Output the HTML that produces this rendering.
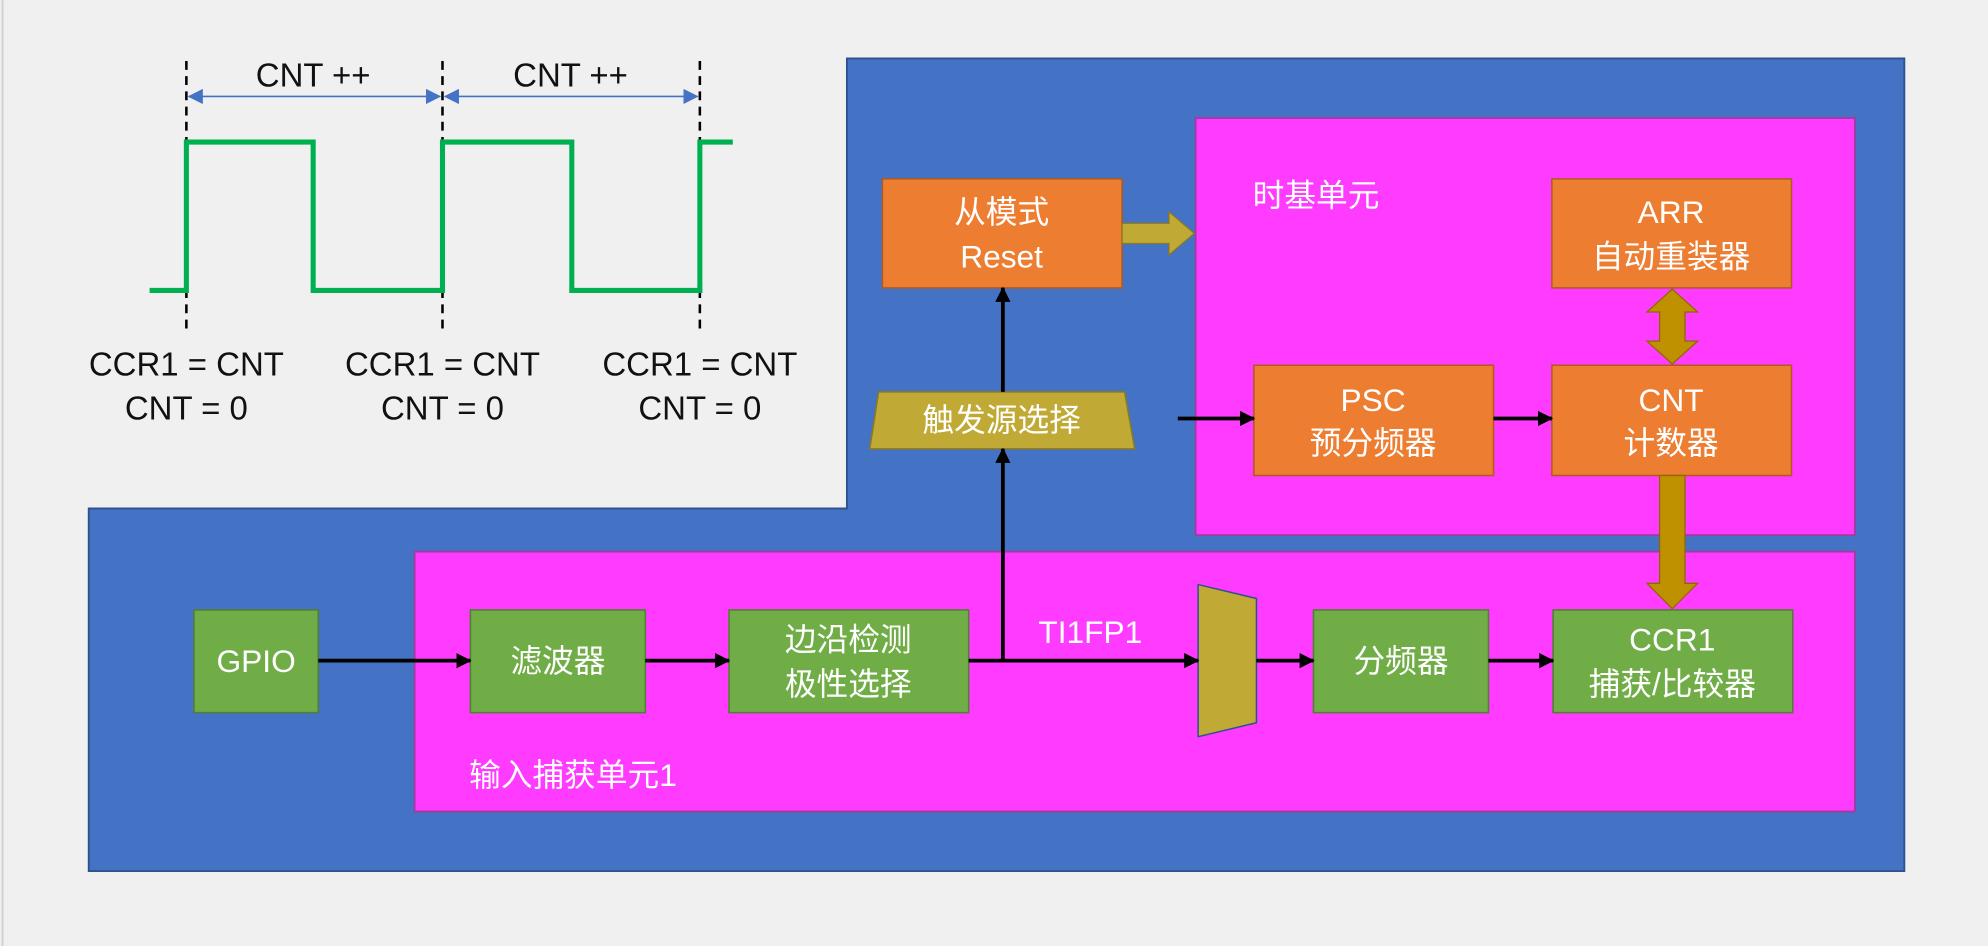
<!DOCTYPE html>
<html><head><meta charset="utf-8"><style>
html,body{margin:0;padding:0;background:#f0f0f0;}
svg{display:block;}
text{font-family:"Liberation Sans","Noto Sans CJK SC",sans-serif;}
</style></head><body>
<svg width="1988" height="946" viewBox="0 0 1568 746" xmlns="http://www.w3.org/2000/svg">
<defs>
<marker id="ab" markerWidth="12" markerHeight="12" refX="11" refY="6" orient="auto" markerUnits="userSpaceOnUse"><path d="M0,0 L12,6 L0,12 z" fill="#000"/></marker>
<marker id="bl" markerWidth="12" markerHeight="12" refX="11" refY="6" orient="auto-start-reverse" markerUnits="userSpaceOnUse"><path d="M0,0 L12,6 L0,12 z" fill="#4472C4"/></marker>
</defs>
<rect x="0" y="0" width="1568" height="746" fill="#f0f0f0"/>
<line x1="2" y1="0" x2="2" y2="746" stroke="#d0d0d0" stroke-width="1.5"/>
<path d="M668,46 L1502,46 L1502,687 L70,687 L70,401 L668,401 Z" fill="#4472C4" stroke="#2f528f" stroke-width="1.5"/>
<rect x="943" y="93" width="520" height="329" fill="#FF3BFF" stroke="#a03ca0" stroke-width="1.5"/>
<rect x="327" y="435" width="1136" height="205" fill="#FF3BFF" stroke="#a03ca0" stroke-width="1.5"/>
<text x="988" y="163" font-size="25" fill="#fff">时基单元</text>
<text x="370" y="620" font-size="25" fill="#fff">输入捕获单元1</text>
<g stroke="#000" stroke-width="2" stroke-dasharray="7,5">
<line x1="147" y1="48" x2="147" y2="260"/><line x1="349" y1="48" x2="349" y2="260"/><line x1="552" y1="48" x2="552" y2="260"/>
</g>
<polyline points="118,229 147,229 147,112 247,112 247,229 349,229 349,112 451,112 451,229 552,229 552,112 578,112" fill="none" stroke="#00B050" stroke-width="4"/>
<line x1="149" y1="76" x2="347" y2="76" stroke="#4472C4" stroke-width="1.2" marker-start="url(#bl)" marker-end="url(#bl)"/>
<line x1="351" y1="76" x2="550" y2="76" stroke="#4472C4" stroke-width="1.2" marker-start="url(#bl)" marker-end="url(#bl)"/>
<g font-size="26" fill="#111" text-anchor="middle">
<text x="247" y="68">CNT ++</text><text x="450" y="68">CNT ++</text>
<text x="147" y="296">CCR1 = CNT</text><text x="349" y="296">CCR1 = CNT</text><text x="552" y="296">CCR1 = CNT</text>
<text x="147" y="331">CNT = 0</text><text x="349" y="331">CNT = 0</text><text x="552" y="331">CNT = 0</text>
</g>
<g fill="#ED7D31" stroke="#ae5a21" stroke-width="1.2">
<rect x="696" y="141" width="189" height="86"/><rect x="1224" y="141" width="189" height="86"/>
<rect x="989" y="288" width="189" height="87"/><rect x="1224" y="288" width="189" height="87"/>
</g>
<g fill="#70AD47" stroke="#507e32" stroke-width="1.2">
<rect x="153" y="481" width="98" height="81"/><rect x="371" y="481" width="138" height="81"/>
<rect x="575" y="481" width="189" height="81"/><rect x="1036" y="481" width="138" height="81"/>
<rect x="1225" y="481" width="189" height="81"/>
</g>
<polygon points="693,309 887,309 895,354 686,354" fill="#C0A934" stroke="#8a7a20" stroke-width="1.2"/>
<polygon points="945,461 991,472 991,570 945,581" fill="#C0A934" stroke="#2f528f" stroke-width="1.2"/>
<g font-size="25" fill="#fff" text-anchor="middle">
<text x="790" y="176">从模式</text><text x="790" y="211">Reset</text>
<text x="1318" y="176">ARR</text><text x="1318" y="211">自动重装器</text>
<text x="1083" y="324">PSC</text><text x="1083" y="358">预分频器</text>
<text x="1318" y="324">CNT</text><text x="1318" y="358">计数器</text>
<text x="202" y="530">GPIO</text><text x="440" y="530">滤波器</text>
<text x="669" y="513">边沿检测</text><text x="669" y="548">极性选择</text>
<text x="1105" y="530">分频器</text>
<text x="1319" y="513">CCR1</text><text x="1319" y="548">捕获/比较器</text>
<text x="790" y="340">触发源选择</text>
<text x="860" y="507">TI1FP1</text>
</g>
<g stroke="#000" stroke-width="3" fill="none" marker-end="url(#ab)">
<line x1="251" y1="521" x2="371" y2="521"/>
<line x1="509" y1="521" x2="575" y2="521"/>
<line x1="764" y1="521" x2="945" y2="521"/>
<polyline points="791,521 791,354"/>
<line x1="791" y1="309" x2="791" y2="227"/>
<line x1="991" y1="521" x2="1036" y2="521"/>
<line x1="1174" y1="521" x2="1225" y2="521"/>
<line x1="929" y1="330" x2="989" y2="330"/>
<line x1="1178" y1="330" x2="1224" y2="330"/>
</g>
<polygon points="885,176 922,176 922,167 942,184 922,201 922,192 885,192" fill="#C0A934" stroke="#8a7a20" stroke-width="1"/>
<polygon points="1319,228 1339,246 1329,246 1329,269 1339,269 1319,287 1299,269 1309,269 1309,246 1299,246" fill="#BF9000" stroke="#8a6a00" stroke-width="1"/>
<polygon points="1309,375 1329,375 1329,460 1339,460 1319,480 1299,460 1309,460" fill="#BF9000" stroke="#8a6a00" stroke-width="1"/>
</svg>
</body></html>
